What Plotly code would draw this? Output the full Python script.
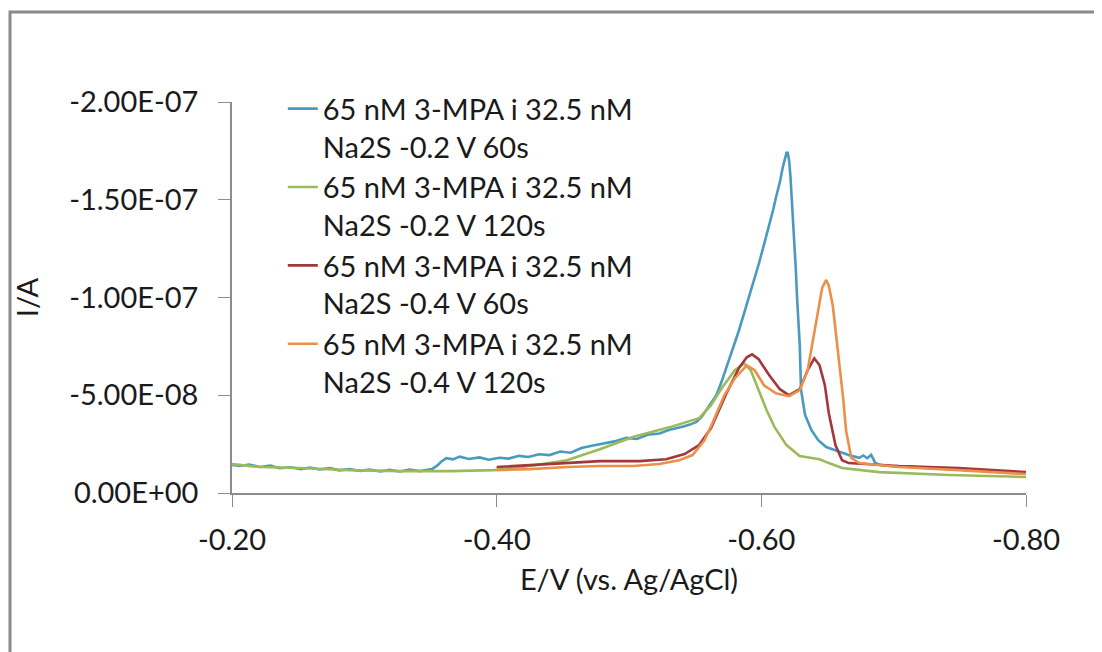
import plotly.graph_objects as go

# ---- data ----
names = [
    "65 nM 3-MPA i 32.5 nM<br>Na2S -0.2 V 60s",
    "65 nM 3-MPA i 32.5 nM<br>Na2S -0.2 V 120s",
    "65 nM 3-MPA i 32.5 nM<br>Na2S -0.4 V 60s",
    "65 nM 3-MPA i 32.5 nM<br>Na2S -0.4 V 120s",
]
colors = ["#4A9AC0", "#9BBB59", "#A3373C", "#EA9048"]

E_blue = [-0.200, -0.206, -0.213, -0.221, -0.229, -0.236, -0.244, -0.252, -0.259, -0.266,
          -0.274, -0.281, -0.289, -0.297, -0.304, -0.312, -0.319, -0.327, -0.334, -0.342,
          -0.351, -0.355, -0.358, -0.362, -0.367, -0.372, -0.379, -0.387, -0.394, -0.402,
          -0.409, -0.417, -0.424, -0.432, -0.440, -0.448, -0.456, -0.464, -0.472, -0.480,
          -0.489, -0.498, -0.506, -0.514, -0.523, -0.530, -0.536, -0.541, -0.546, -0.551,
          -0.555, -0.560, -0.566, -0.570, -0.574, -0.579, -0.583, -0.587, -0.591, -0.595,
          -0.598, -0.602, -0.606, -0.609, -0.611, -0.614, -0.616, -0.618, -0.619, -0.620,
          -0.621, -0.622, -0.623, -0.625, -0.626, -0.627, -0.629, -0.630, -0.633, -0.638,
          -0.643, -0.649, -0.655, -0.661, -0.667, -0.674, -0.677, -0.680, -0.683, -0.686,
          -0.689, -0.697, -0.704, -0.712, -0.719, -0.727, -0.734, -0.742, -0.749, -0.757,
          -0.765, -0.772, -0.780, -0.788, -0.795, -0.800]
I_blue = [-1.43e-8, -1.38e-8, -1.46e-8, -1.33e-8, -1.40e-8, -1.27e-8, -1.32e-8, -1.22e-8, -1.30e-8, -1.20e-8,
          -1.27e-8, -1.16e-8, -1.22e-8, -1.13e-8, -1.20e-8, -1.10e-8, -1.18e-8, -1.10e-8, -1.20e-8, -1.12e-8,
          -1.22e-8, -1.40e-8, -1.60e-8, -1.78e-8, -1.72e-8, -1.86e-8, -1.74e-8, -1.82e-8, -1.70e-8, -1.80e-8,
          -1.76e-8, -1.90e-8, -1.84e-8, -1.98e-8, -1.94e-8, -2.12e-8, -2.06e-8, -2.30e-8, -2.42e-8, -2.52e-8,
          -2.64e-8, -2.82e-8, -2.76e-8, -2.98e-8, -3.04e-8, -3.22e-8, -3.30e-8, -3.40e-8, -3.50e-8, -3.64e-8,
          -3.90e-8, -4.40e-8, -5.00e-8, -5.70e-8, -6.50e-8, -7.40e-8, -8.30e-8, -9.20e-8, -1.01e-7, -1.09e-7,
          -1.17e-7, -1.27e-7, -1.37e-7, -1.45e-7, -1.51e-7, -1.59e-7, -1.66e-7, -1.71e-7, -1.74e-7, -1.74e-7,
          -1.70e-7, -1.62e-7, -1.51e-7, -1.30e-7, -1.15e-7, -1.00e-7, -7.60e-8, -5.30e-8, -4.00e-8, -3.20e-8,
          -2.70e-8, -2.35e-8, -2.20e-8, -2.05e-8, -1.92e-8, -1.80e-8, -1.92e-8, -1.78e-8, -1.95e-8, -1.55e-8,
          -1.44e-8, -1.38e-8, -1.34e-8, -1.36e-8, -1.30e-8, -1.26e-8, -1.28e-8, -1.20e-8, -1.22e-8, -1.14e-8,
          -1.16e-8, -1.10e-8, -1.12e-8, -1.04e-8, -1.06e-8, -1.00e-8]

E_green = [-0.200, -0.221, -0.251, -0.289, -0.327, -0.365, -0.398, -0.425, -0.453, -0.478,
           -0.503, -0.531, -0.553, -0.562, -0.570, -0.580, -0.587, -0.592, -0.598, -0.604,
           -0.610, -0.619, -0.629, -0.644, -0.651, -0.661, -0.689, -0.742, -0.800]
I_green = [-1.48e-8, -1.33e-8, -1.28e-8, -1.17e-8, -1.12e-8, -1.12e-8, -1.17e-8, -1.38e-8, -1.68e-8, -2.24e-8,
           -2.86e-8, -3.37e-8, -3.83e-8, -4.49e-8, -5.36e-8, -6.28e-8, -6.63e-8, -6.28e-8, -5.26e-8, -4.23e-8,
           -3.37e-8, -2.45e-8, -1.89e-8, -1.73e-8, -1.53e-8, -1.28e-8, -1.07e-8, -0.92e-8, -0.82e-8]

E_red = [-0.400, -0.427, -0.448, -0.478, -0.508, -0.528, -0.542, -0.553, -0.562, -0.574,
         -0.583, -0.589, -0.593, -0.598, -0.606, -0.614, -0.621, -0.629, -0.635, -0.640,
         -0.644, -0.648, -0.651, -0.656, -0.661, -0.666, -0.704, -0.749, -0.800]
I_red = [-1.33e-8, -1.43e-8, -1.53e-8, -1.63e-8, -1.63e-8, -1.73e-8, -1.99e-8, -2.45e-8, -3.32e-8, -5.15e-8,
         -6.38e-8, -6.94e-8, -7.09e-8, -6.84e-8, -6.02e-8, -5.31e-8, -5.00e-8, -5.31e-8, -6.28e-8, -6.89e-8,
         -6.53e-8, -5.51e-8, -4.08e-8, -2.45e-8, -1.68e-8, -1.53e-8, -1.38e-8, -1.28e-8, -1.07e-8]

E_orange = [-0.400, -0.425, -0.453, -0.478, -0.503, -0.523, -0.538, -0.548, -0.557, -0.563,
            -0.572, -0.580, -0.589, -0.595, -0.602, -0.611, -0.621, -0.629, -0.635, -0.638,
            -0.642, -0.646, -0.649, -0.651, -0.654, -0.659, -0.662, -0.664, -0.668, -0.674,
            -0.704, -0.749, -0.800]
I_orange = [-1.17e-8, -1.22e-8, -1.33e-8, -1.38e-8, -1.38e-8, -1.48e-8, -1.68e-8, -1.94e-8, -2.70e-8, -3.57e-8,
            -5.00e-8, -5.87e-8, -6.53e-8, -6.28e-8, -5.51e-8, -5.10e-8, -4.95e-8, -5.26e-8, -6.28e-8, -7.45e-8,
            -9.08e-8, -1.05e-7, -1.09e-7, -1.06e-7, -9.59e-8, -6.63e-8, -4.74e-8, -3.21e-8, -1.79e-8, -1.53e-8,
            -1.33e-8, -1.17e-8, -0.97e-8]

x_tickvals = [-0.2, -0.4, -0.6, -0.8]
x_ticktext = ["-0.20", "-0.40", "-0.60", "-0.80"]
y_tickvals = [0, -5e-8, -1e-7, -1.5e-7, -2e-7]
y_ticktext = ["0.00E+00", "-5.00E-08", "-1.00E-07", "-1.50E-07", "-2.00E-07"]

FONT = "Lato"
FS = 29
series = [(E_blue, I_blue), (E_green, I_green), (E_red, I_red), (E_orange, I_orange)]

fig = go.Figure()
for (xs, ys), nm, col in zip(series, names, colors):
    fig.add_trace(go.Scatter(x=xs, y=ys, mode="lines", name=nm,
                             line=dict(color=col, width=2.6)))

axis_common = dict(showgrid=False, zeroline=False, showline=True, linecolor="#8C8C8C",
                   linewidth=1.6, ticks="outside", ticklen=12, tickcolor="#8C8C8C",
                   tickwidth=1.4, tickfont=dict(family=FONT, size=FS, color="#1a1a1a"))

# page body has an 8px offset, so the plot box is shifted accordingly
L, T, R, B = 224, 94, 1018, 485
W, H = 1102, 652

fig.update_layout(
    width=W, height=H,
    margin=dict(l=L, r=W - R, t=T, b=H - B),
    paper_bgcolor="white", plot_bgcolor="white",
    font=dict(family=FONT, size=FS, color="#1a1a1a"),
    xaxis=dict(range=[-0.2, -0.8], tickvals=x_tickvals, ticktext=x_ticktext,
               ticklabelstandoff=8,
               title=dict(text="E/V (vs. Ag/AgCl)", font=dict(family=FONT, size=FS), standoff=15),
               **axis_common),
    yaxis=dict(range=[0, -2e-7], tickvals=y_tickvals, ticktext=y_ticktext,
               ticklabelstandoff=14,
               title=dict(text="I/A", font=dict(family=FONT, size=FS), standoff=22),
               **axis_common),
    legend=dict(x=(282 - 232) / 794 + 0.001, y=1.048, xanchor="left", yanchor="top", valign="top",
                bgcolor="rgba(0,0,0,0)", font=dict(family=FONT, size=FS, color="#1a1a1a")),
    shapes=[dict(type="rect", xref="paper", yref="paper",
                 x0=(2 - L) / (R - L), x1=(1130 - L) / (R - L),
                 y0=(B - 700) / (B - T), y1=(B - 4) / (B - T),
                 line=dict(color="#8A8A8A", width=3), fillcolor="rgba(0,0,0,0)", layer="below")],
)

fig.write_html("out.html")
